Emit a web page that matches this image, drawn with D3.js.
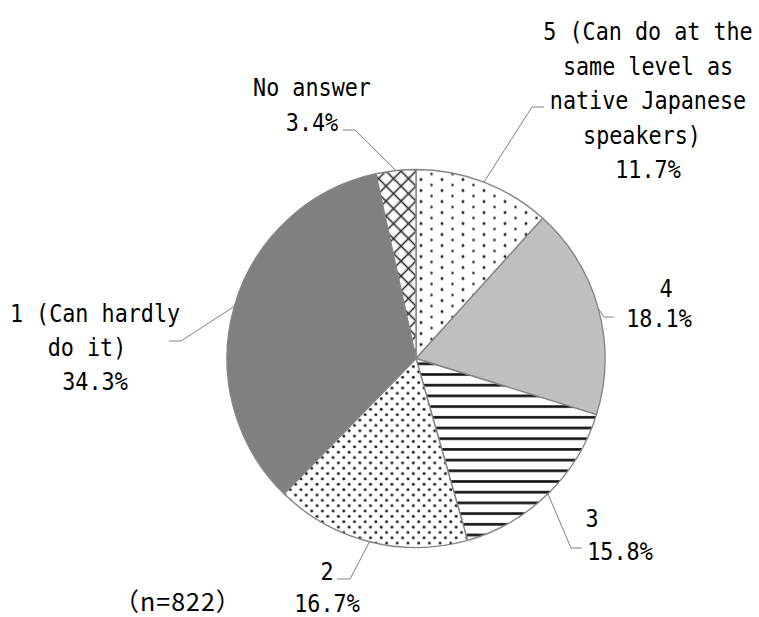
<!DOCTYPE html>
<html><head><meta charset="utf-8">
<script src="https://cdn.jsdelivr.net/npm/d3@7"></script>
<style>
body{margin:0;background:#fff}
text{font-family:"DejaVu Sans Mono",monospace;font-size:25px;fill:#000}
</style>
</head><body>
<svg id="c" width="759" height="617"></svg>
<script>
// ---- data ----
const categories = ["5 (Can do at the same level as native Japanese speakers)", "4", "3", "2", "1 (Can hardly do it)", "No answer"];
const values = [11.7, 18.1, 15.8, 16.7, 34.3, 3.4];
const labelLines = [
  ["5 (Can do at the", "same level as", "native Japanese", "speakers)"],
  ["4"], ["3"], ["2"],
  ["1 (Can hardly", "do it)"],
  ["No answer"]
];
const sampleNote = "（n=822）";

// ---- layout ----
const W = 759, H = 617;
const cx = 416, cy = 358.5, R = 189;
const SX = 0.87; // horizontal condensing of label text
const fills = ["url(#pDotsSparse)", "#bfbfbf", "url(#pStripes)", "url(#pDotsDense)", "#808080", "url(#pCross)"];
// label placement: centre x, first baseline, line height, per-line dx (includes percent line)
const labelLayout = [
  {x: 648, y: 40, lh: 34.5, dx: [0, 0, 0, -6, 0]},
  {x: 659, y: 297, lh: 30, dx: [7, 0]},
  {x: 620, y: 527, lh: 33, dx: [-28, 0]},
  {x: 327, y: 580, lh: 32, dx: [0, 0]},
  {x: 95, y: 322, lh: 34, dx: [0, -8, 0]},
  {x: 312, y: 96, lh: 35, dx: [0, 0]}
];
// leader elbows: [elbow point, end point]
const leaders = [
  [[532, 107], [544, 107]],
  [[604, 317], [614, 317]],
  [[571, 548], [582, 548]],
  [[350, 579], [337, 579]],
  [[181, 341], [169, 341]],
  [[355, 130], [343, 130]]
];

const svg = d3.select("#c");
const defs = svg.append("defs");

// sparse dots
const p1 = defs.append("pattern").attr("id", "pDotsSparse").attr("patternUnits", "userSpaceOnUse")
  .attr("width", 21).attr("height", 11);
p1.append("rect").attr("width", 21).attr("height", 11).attr("fill", "#fff");
p1.append("circle").attr("cx", 5).attr("cy", 8).attr("r", 1.5).attr("fill", "#222");
p1.append("circle").attr("cx", 15.5).attr("cy", 2.5).attr("r", 1.3).attr("fill", "#222");

// dense dots
const p2 = defs.append("pattern").attr("id", "pDotsDense").attr("patternUnits", "userSpaceOnUse")
  .attr("width", 10.7).attr("height", 10.7);
p2.append("rect").attr("width", 10.7).attr("height", 10.7).attr("fill", "#fff");
p2.append("circle").attr("cx", 2.7).attr("cy", 2.7).attr("r", 1.5).attr("fill", "#222");
p2.append("circle").attr("cx", 8.05).attr("cy", 8.05).attr("r", 1.5).attr("fill", "#222");

// horizontal stripes
const p3 = defs.append("pattern").attr("id", "pStripes").attr("patternUnits", "userSpaceOnUse")
  .attr("width", 10).attr("height", 10.7);
p3.append("rect").attr("width", 10).attr("height", 10.7).attr("fill", "#fff");
p3.append("rect").attr("y", 4).attr("width", 10).attr("height", 2.6).attr("fill", "#111");

// crosshatch
const cs = 10.6;
const p4 = defs.append("pattern").attr("id", "pCross").attr("patternUnits", "userSpaceOnUse")
  .attr("width", cs).attr("height", cs).attr("patternTransform", "rotate(45)");
p4.append("rect").attr("width", cs).attr("height", cs).attr("fill", "#fff");
p4.append("rect").attr("y", cs / 2 - 0.8).attr("width", cs).attr("height", 1.6).attr("fill", "#333");
p4.append("rect").attr("x", cs / 2 - 0.8).attr("width", 1.6).attr("height", cs).attr("fill", "#333");

const pie = d3.pie().sort(null).value(d => d)(values);
const arc = d3.arc().innerRadius(0).outerRadius(R);
const edge = d3.arc().innerRadius(R).outerRadius(R);

const g = svg.append("g").attr("transform", `translate(${cx},${cy})`);
g.selectAll("path.slice").data(pie).join("path")
  .attr("class", "slice")
  .attr("d", arc)
  .attr("fill", (d, i) => fills[i])
  .attr("stroke", "#858585")
  .attr("stroke-width", 1.4)
  .attr("stroke-linejoin", "round");

// leader lines
const line = d3.line();
svg.selectAll("path.leader").data(pie).join("path")
  .attr("class", "leader")
  .attr("d", (d, i) => {
    const c = edge.centroid(d);
    return line([[cx + c[0], cy + c[1]], leaders[i][0], leaders[i][1]]);
  })
  .attr("fill", "none")
  .attr("stroke", "#808080")
  .attr("stroke-width", 1);

// labels
const fmt = d3.format(".1f");
labelLines.forEach((lines, i) => {
  const L = labelLayout[i];
  const all = lines.concat([fmt(values[i]) + "%"]);
  all.forEach((s, k) => {
    svg.append("text")
      .attr("text-anchor", "middle")
      .attr("transform", `translate(${L.x + (L.dx[k] || 0)},${L.y + k * L.lh}) scale(${SX},1)`)
      .text(s);
  });
});

svg.append("text").attr("x", 114).attr("y", 611)
  .style("font-family", "'Noto Sans CJK JP', sans-serif")
  .style("font-size", "25px")
  .style("letter-spacing", "1px")
  .text(sampleNote);
</script>
</body></html>
